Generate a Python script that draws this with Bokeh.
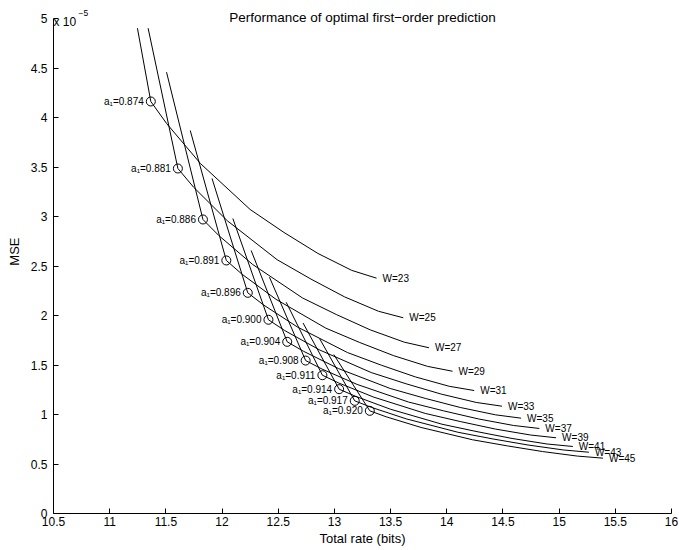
from bokeh.plotting import figure
from bokeh.models import Label, FixedTicker, ColumnDataSource
from bokeh.embed import file_html
from bokeh.resources import INLINE
from bokeh.core.properties import value

# Window sizes and optimal a1 values
windows = [23, 25, 27, 29, 31, 33, 35, 37, 39, 41, 43, 45]
a1_labels = ["0.874", "0.881", "0.886", "0.891", "0.896", "0.900",
             "0.904", "0.908", "0.911", "0.914", "0.917", "0.920"]

# Optimal operating points (rate in bits, MSE in units of 1e-5)
opt_rate = [11.366, 11.607, 11.830, 12.038, 12.229, 12.413,
            12.580, 12.744, 12.893, 13.042, 13.181, 13.315]
opt_mse = [4.162, 3.485, 2.970, 2.556, 2.229, 1.957,
           1.734, 1.545, 1.397, 1.256, 1.138, 1.037]

# Rate/MSE curves for each window size (MSE in units of 1e-5)
rate_W23 = [11.247, 11.366, 11.507, 11.808, 12.250, 12.551, 12.853, 13.154, 13.375]
mse_W23 = [4.902, 4.162, 3.939, 3.535, 3.071, 2.839, 2.627, 2.456, 2.377]
rate_W25 = [11.342, 11.607, 11.747, 12.048, 12.490, 12.791, 13.091, 13.392, 13.613]
mse_W25 = [4.902, 3.485, 3.296, 2.956, 2.564, 2.368, 2.188, 2.043, 1.977]
rate_W27 = [11.506, 11.830, 11.971, 12.273, 12.715, 13.017, 13.319, 13.621, 13.842]
mse_W27 = [4.458, 2.970, 2.808, 2.515, 2.178, 2.010, 1.855, 1.731, 1.674]
rate_W29 = [11.717, 12.038, 12.179, 12.481, 12.924, 13.226, 13.528, 13.830, 14.051]
mse_W29 = [3.869, 2.556, 2.416, 2.163, 1.872, 1.727, 1.594, 1.486, 1.437]
rate_W31 = [11.911, 12.229, 12.370, 12.672, 13.116, 13.418, 13.720, 14.022, 14.244]
mse_W31 = [3.384, 2.229, 2.106, 1.883, 1.626, 1.498, 1.380, 1.285, 1.242]
rate_W33 = [12.096, 12.413, 12.558, 12.870, 13.327, 13.639, 13.951, 14.262, 14.491]
mse_W33 = [2.980, 1.957, 1.848, 1.651, 1.424, 1.310, 1.206, 1.122, 1.084]
rate_W35 = [12.259, 12.580, 12.726, 13.038, 13.496, 13.808, 14.120, 14.432, 14.661]
mse_W35 = [2.657, 1.734, 1.638, 1.463, 1.263, 1.163, 1.071, 0.997, 0.963]
rate_W37 = [12.422, 12.744, 12.890, 13.202, 13.659, 13.971, 14.283, 14.595, 14.824]
mse_W37 = [2.387, 1.545, 1.459, 1.304, 1.126, 1.037, 0.955, 0.889, 0.859]
rate_W39 = [12.571, 12.893, 13.039, 13.351, 13.808, 14.120, 14.432, 14.744, 14.973]
mse_W39 = [2.134, 1.397, 1.318, 1.175, 1.011, 0.929, 0.853, 0.793, 0.765]
rate_W41 = [12.721, 13.042, 13.188, 13.500, 13.957, 14.269, 14.581, 14.893, 15.122]
mse_W41 = [1.924, 1.256, 1.184, 1.053, 0.902, 0.827, 0.758, 0.702, 0.677]
rate_W43 = [12.869, 13.181, 13.327, 13.639, 14.098, 14.411, 14.723, 15.036, 15.265]
mse_W43 = [1.765, 1.138, 1.073, 0.956, 0.821, 0.753, 0.692, 0.642, 0.619]
rate_W45 = [12.994, 13.315, 13.460, 13.772, 14.228, 14.539, 14.851, 15.162, 15.390]
mse_W45 = [1.606, 1.037, 0.977, 0.869, 0.745, 0.683, 0.626, 0.580, 0.559]

x_ticks = [10.5, 11, 11.5, 12, 12.5, 13, 13.5, 14, 14.5, 15, 15.5, 16]
y_ticks = [0, 0.5, 1, 1.5, 2, 2.5, 3, 3.5, 4, 4.5, 5]

rates = [rate_W23, rate_W25, rate_W27, rate_W29, rate_W31, rate_W33,
         rate_W35, rate_W37, rate_W39, rate_W41, rate_W43, rate_W45]
mses = [mse_W23, mse_W25, mse_W27, mse_W29, mse_W31, mse_W33,
        mse_W35, mse_W37, mse_W39, mse_W41, mse_W43, mse_W45]

FONT = "Liberation Sans"
Y_TOP = 5.182  # headroom above the axis for the title

p = figure(frame_width=618, frame_height=513, x_range=(10.5, 16), y_range=(0, Y_TOP),
           output_backend="svg", toolbar_location=None,
           min_border_left=53, min_border_top=0, min_border_right=8,
           min_border_bottom=37)
p.outline_line_color = None
p.grid.visible = False
p.background_fill_color = "white"
p.border_fill_color = "white"

for r, m in zip(rates, mses):
    p.line(r, m, line_color="black", line_width=1)

p.scatter(opt_rate, opt_mse, marker="circle", size=9, fill_color=None,
          line_color="black", line_width=1)

# a1 labels
src_a = ColumnDataSource(dict(x=opt_rate, y=opt_mse,
                              t=["a\u2081=" + a for a in a1_labels]))
p.text(x="x", y="y", text="t", source=src_a, text_align="right",
       text_baseline="middle", x_offset=-7, text_font=value(FONT),
       text_font_size="10px", text_color="black")

# W labels at curve ends
src_w = ColumnDataSource(dict(x=[r[-1] for r in rates], y=[m[-1] for m in mses],
                              t=["W=%d" % w for w in windows]))
p.text(x="x", y="y", text="t", source=src_w, text_align="left",
       text_baseline="middle", x_offset=6, text_font=value(FONT),
       text_font_size="10px", text_color="black")

for ax in (p.xaxis[0], p.yaxis[0]):
    ax.major_tick_in = 5
    ax.major_tick_out = 0
    ax.minor_tick_in = 0
    ax.minor_tick_out = 0
    ax.axis_line_color = "black"
    ax.major_tick_line_color = "black"
    ax.major_label_text_font = FONT
    ax.major_label_text_font_size = "12px"
    ax.major_label_text_color = "black"
    ax.axis_label_text_font = FONT
    ax.axis_label_text_font_size = "13px"
    ax.axis_label_text_font_style = "normal"
    ax.axis_label_text_color = "black"

p.xaxis.ticker = FixedTicker(ticks=x_ticks)
p.xaxis.major_label_overrides = {t: ("%g" % t) for t in x_ticks}
p.yaxis.ticker = FixedTicker(ticks=y_ticks)
p.yaxis.major_label_overrides = {t: ("%g" % t) for t in y_ticks}
p.yaxis.bounds = (0, 5)
p.xaxis.axis_label = "Total rate (bits)"
# leading no-break spaces nudge the rotated label slightly upwards
p.yaxis.axis_label = "\u00a0\u00a0\u00a0MSE"
p.xaxis.major_label_standoff = 3
p.xaxis.axis_label_standoff = 2
p.yaxis.major_label_standoff = 6
p.yaxis.axis_label_standoff = 6

# Title and exponent annotation (inside the headroom of the frame)
p.add_layout(Label(x=13.25, y=5.0, text="Performance of optimal first\u2212order prediction",
                   text_align="center", text_baseline="alphabetic", y_offset=1,
                   text_font=FONT, text_font_size="13.5px", text_color="black"))
p.add_layout(Label(x=10.5, y=5.0, text="x 10", text_align="left",
                   text_baseline="alphabetic", y_offset=-3, x_offset=0,
                   text_font=FONT, text_font_size="12px", text_color="black"))
p.add_layout(Label(x=10.5, y=5.0, text="\u22125", text_align="left",
                   text_baseline="alphabetic", y_offset=6, x_offset=25,
                   text_font=FONT, text_font_size="8.5px", text_color="black"))

open("out.html", "w").write(file_html(p, INLINE))
